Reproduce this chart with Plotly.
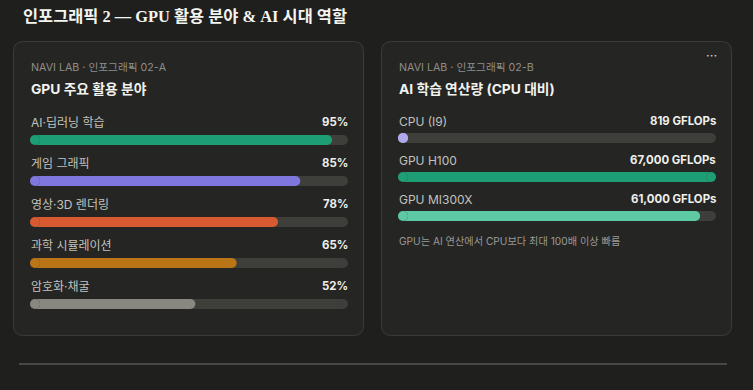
import plotly.graph_objects as go

# ---------------- data ----------------
left_categories = ["AI·딥러닝 학습", "게임 그래픽", "영상·3D 렌더링", "과학 시뮬레이션", "암호화·채굴"]
left_values = [95, 85, 78, 65, 52]          # percent

right_categories = ["CPU (I9)", "GPU H100", "GPU MI300X"]
right_gflops = [819, 67000, 61000]          # GFLOPs (labels)
right_bar_pct = [1.2, 100, 95]              # bar fill as drawn (% of track)

# ---------------- styles ----------------
W, H = 753, 390
PAGE_BG = "#1f1f1e"
CARD_BG = "#252524"
CARD_BORDER = "#3b3b39"
TRACK = "#3e3e3b"
left_colors = ["#1d9e75", "#7f77dd", "#d85a30", "#ba7517", "#888780"]
right_colors = ["#afa9ec", "#1d9e75", "#5dcaa5"]
FONT = "Inter, 'Noto Sans CJK KR', sans-serif"
TITLE_FONT = "'Liberation Serif', 'Noto Sans CJK KR', serif"


def px_x(x):
    return x / W


def px_y(y):
    return 1 - y / H


def rounded_rect(x0, y0, x1, y1, r):
    X = px_x
    Y = px_y
    return (f"M {X(x0 + r)},{Y(y0)} L {X(x1 - r)},{Y(y0)} Q {X(x1)},{Y(y0)} {X(x1)},{Y(y0 + r)} "
            f"L {X(x1)},{Y(y1 - r)} Q {X(x1)},{Y(y1)} {X(x1 - r)},{Y(y1)} "
            f"L {X(x0 + r)},{Y(y1)} Q {X(x0)},{Y(y1)} {X(x0)},{Y(y1 - r)} "
            f"L {X(x0)},{Y(y0 + r)} Q {X(x0)},{Y(y0)} {X(x0 + r)},{Y(y0)} Z")


fig = go.Figure()

LX0, LX1 = 30, 348
RX0, RX1 = 398, 716
L_ROW0, L_STEP = 140, 41
R_ROW0, R_STEP = 138, 39
BAR_H = 10


def add_round_bars(cats, lengths, colors, xa, ya, width_cat, px_per_unit):
    """Pill-shaped horizontal bars: flat bar between two round end caps."""
    r = (BAR_H / 2) / px_per_unit
    for c, v, col in zip(cats, lengths, colors):
        L = max(v, 2 * r)
        fig.add_trace(go.Bar(
            y=[c], x=[L - 2 * r], base=[r], orientation="h",
            marker=dict(color=col, line=dict(width=0)),
            width=width_cat, xaxis=xa, yaxis=ya, hoverinfo="skip", showlegend=False))
        fig.add_trace(go.Scatter(
            y=[c, c], x=[r, L - r], mode="markers",
            marker=dict(color=col, size=BAR_H, line=dict(width=0)),
            xaxis=xa, yaxis=ya, hoverinfo="skip", showlegend=False, cliponaxis=False))


lppu = (LX1 - LX0) / 100.0
rppu = (RX1 - RX0) / 100.0

add_round_bars(left_categories, [100] * len(left_categories), [TRACK] * 5, "x", "y", BAR_H / L_STEP, lppu)
add_round_bars(right_categories, [100] * len(right_categories), [TRACK] * 3, "x2", "y2", BAR_H / R_STEP, rppu)
add_round_bars(left_categories, left_values, left_colors, "x", "y", BAR_H / L_STEP, lppu)
add_round_bars(right_categories, right_bar_pct, right_colors, "x2", "y2", BAR_H / R_STEP, rppu)

nL = len(left_categories)
nR = len(right_categories)
ly_top = L_ROW0 - L_STEP / 2
ly_bot = L_ROW0 + (nL - 1) * L_STEP + L_STEP / 2
ry_top = R_ROW0 - R_STEP / 2
ry_bot = R_ROW0 + (nR - 1) * R_STEP + R_STEP / 2

axis_off = dict(visible=False, showgrid=False, zeroline=False, fixedrange=True)

fig.update_layout(
    width=W, height=H,
    margin=dict(l=0, r=0, t=0, b=0),
    paper_bgcolor=PAGE_BG, plot_bgcolor="rgba(0,0,0,0)",
    barmode="overlay",
    font=dict(family=FONT, color="#e8e8e4"),
    xaxis=dict(domain=[px_x(LX0), px_x(LX1)], range=[0, 100], anchor="y", **axis_off),
    yaxis=dict(domain=[px_y(ly_bot), px_y(ly_top)], range=[nL - 0.5, -0.5], anchor="x",
               type="category", **axis_off),
    xaxis2=dict(domain=[px_x(RX0), px_x(RX1)], range=[0, 100], anchor="y2", **axis_off),
    yaxis2=dict(domain=[px_y(ry_bot), px_y(ry_top)], range=[nR - 0.5, -0.5], anchor="x2",
                type="category", **axis_off),
)

shapes = []
for (x0, x1) in [(13, 364), (381, 732)]:
    shapes.append(dict(type="path", path=rounded_rect(x0 + 0.5, 41.5, x1 - 0.5, 335.5, 10),
                       xref="paper", yref="paper", fillcolor=CARD_BG,
                       line=dict(color=CARD_BORDER, width=1), layer="below"))
shapes.append(dict(type="line", xref="paper", yref="paper",
                   x0=px_x(19), x1=px_x(727), y0=px_y(364), y1=px_y(364),
                   line=dict(color="#575755", width=1.5)))
fig.update_layout(shapes=shapes)

ann = []


def text(x, y, s, size, color, bold=False, anchor="left", family=FONT):
    ann.append(dict(xref="paper", yref="paper", x=px_x(x), y=px_y(y), text=f"<b>{s}</b>" if bold else s,
                    showarrow=False, xanchor=anchor, yanchor="middle",
                    font=dict(size=size, color=color, family=family)))


text(21, 17, "인포그래픽 2 — GPU 활용 분야 &amp; AI 시대 역할", 16.4, "#f4f4f0", bold=True, family=TITLE_FONT)

text(29, 67, "NAVI LAB · 인포그래픽 02-A", 10.7, "#8e8e89")
text(29, 89, "GPU 주요 활용 분야", 13.8, "#f2f2ee", bold=True)
text(397, 67, "NAVI LAB · 인포그래픽 02-B", 10.7, "#8e8e89")
text(397, 89, "AI 학습 연산량 (CPU 대비)", 13.8, "#f2f2ee", bold=True)
text(711, 55, "···", 13, "#d0d0cc", anchor="center")
text(397, 241, "GPU는 AI 연산에서 CPU보다 최대 100배 이상 빠름", 10.2, "#9a9a95")

for c, v in zip(left_categories, left_values):
    ann.append(dict(xref="paper", yref="y", x=px_x(LX0 - 1), y=c, yshift=18, text=c, showarrow=False,
                    xanchor="left", yanchor="middle", font=dict(size=12, color="#c2c2bd")))
    ann.append(dict(xref="paper", yref="y", x=px_x(LX1 + 1.5), y=c, yshift=18, text=f"<b>{v}%</b>",
                    showarrow=False, xanchor="right", yanchor="middle",
                    font=dict(size=11.4, color="#efefeb")))
for c, v in zip(right_categories, right_gflops):
    ann.append(dict(xref="paper", yref="y2", x=px_x(RX0 - 1), y=c, yshift=17, text=c, showarrow=False,
                    xanchor="left", yanchor="middle", font=dict(size=12, color="#c2c2bd")))
    ann.append(dict(xref="paper", yref="y2", x=px_x(RX1 + 1.5), y=c, yshift=17, text=f"<b>{v:,} GFLOPs</b>",
                    showarrow=False, xanchor="right", yanchor="middle",
                    font=dict(size=11.4, color="#efefeb")))

fig.update_layout(annotations=ann)

fig.write_html("out.html", config={"displayModeBar": False})
